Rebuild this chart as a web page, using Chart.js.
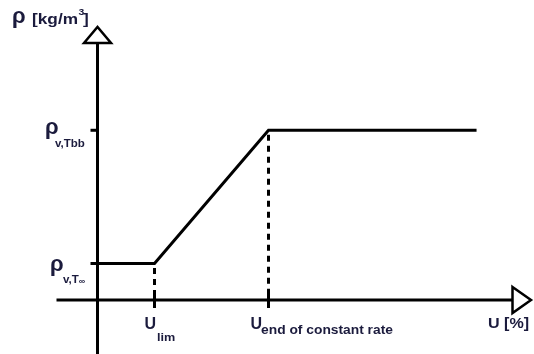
<!DOCTYPE html>
<html>
<head>
<meta charset="utf-8">
<script src="https://cdn.jsdelivr.net/npm/chart.js@4/dist/chart.umd.min.js"></script>
<style>
  html, body { margin: 0; padding: 0; background: #ffffff; }
  #wrap { width: 534px; height: 354px; }
</style>
</head>
<body>
<div id="wrap"><canvas id="c" width="534" height="354"></canvas></div>
<script>
// Moisture content U (abscissa) and vapour density rho (ordinate), schematic units
const curveU   = [0, 1, 3, 6.65];
const curveRho = [1, 1, 4.65, 4.65];

// Marked moisture contents on the U axis and their subscripts
const uTicks      = [1, 3];
const uTickSubs   = ['lim', 'end of constant rate'];

// Marked densities on the rho axis and their subscripts
const rhoTicks    = [1, 4.65];
const rhoTickSubs = ['v,T', 'v,Tbb'];

const axisTitleX = 'U [%]';
const axisTitleY = '[kg/m';

const INK = '#000000';
const TEXT = '#1b1b3d';

function rhoAt(u) {
  const i = curveU.indexOf(u);
  return curveRho[i];
}

const curveData = curveU.map((u, i) => ({ x: u, y: curveRho[i] }));

const guideSets = uTicks.map(u => ({
  data: [{ x: u, y: rhoAt(u) }, { x: u, y: 0 }],
  showLine: true,
  borderColor: INK,
  borderWidth: 3,
  borderDash: [6, 5],
  borderDashOffset: 6.5,
  borderCapStyle: 'butt',
  pointRadius: 0
}));

// stretched bold text helper
function txt(ctx, s, x, y, size, sx) {
  ctx.save();
  ctx.translate(x, y);
  ctx.scale(sx || 1.15, 1);
  ctx.font = 'bold ' + size + 'px "Liberation Sans", Arial, sans-serif';
  ctx.fillStyle = TEXT;
  ctx.textBaseline = 'alphabetic';
  ctx.textAlign = 'left';
  ctx.fillText(s, 0, 0);
  const w = ctx.measureText(s).width * (sx || 1.15);
  ctx.restore();
  return w;
}

const axesPlugin = {
  id: 'axesPlugin',
  beforeDatasetsDraw(chart) {
    const ctx = chart.ctx;
    const xs = chart.scales.x, ys = chart.scales.y;
    const ox = xs.getPixelForValue(0), oy = ys.getPixelForValue(0);
    ctx.save();
    ctx.strokeStyle = INK;
    ctx.lineWidth = 3;
    ctx.lineCap = 'butt';
    // horizontal axis
    const xEnd = 512.5;
    ctx.beginPath();
    ctx.moveTo(ox - 41, oy);
    ctx.lineTo(xEnd, oy);
    ctx.stroke();
    // vertical axis
    const yEnd = 43;
    ctx.beginPath();
    ctx.moveTo(ox, chart.height);
    ctx.lineTo(ox, yEnd);
    ctx.stroke();
    // ticks on U axis
    uTicks.forEach(u => {
      const px = xs.getPixelForValue(u);
      ctx.beginPath();
      ctx.moveTo(px, oy - 8);
      ctx.lineTo(px, oy + 8);
      ctx.stroke();
    });
    // ticks on rho axis
    rhoTicks.forEach(r => {
      const py = ys.getPixelForValue(r);
      ctx.beginPath();
      ctx.moveTo(ox - 7, py);
      ctx.lineTo(ox, py);
      ctx.stroke();
    });
    // open arrowheads
    ctx.lineWidth = 2.5;
    ctx.lineJoin = 'miter';
    ctx.fillStyle = '#ffffff';
    ctx.beginPath();
    ctx.moveTo(xEnd, oy - 13);
    ctx.lineTo(xEnd + 18.5, oy);
    ctx.lineTo(xEnd, oy + 13);
    ctx.closePath();
    ctx.fill();
    ctx.stroke();
    ctx.beginPath();
    ctx.moveTo(ox - 13.5, yEnd);
    ctx.lineTo(ox, yEnd - 16);
    ctx.lineTo(ox + 13.5, yEnd);
    ctx.closePath();
    ctx.fill();
    ctx.stroke();
    ctx.restore();
  },
  afterDraw(chart) {
    const ctx = chart.ctx;
    const xs = chart.scales.x, ys = chart.scales.y;
    const oy = ys.getPixelForValue(0);

    // axis titles
    txt(ctx, '\u03c1', 12, 22.5, 22, 1.0);
    let w = txt(ctx, axisTitleY, 32, 24, 15);
    txt(ctx, '3', 32 + w + 0.5, 15, 9);
    txt(ctx, ']', 32 + w + 5, 24, 15);
    txt(ctx, axisTitleX, 488, oy + 28, 14);

    // U marks
    uTicks.forEach((u, i) => {
      const px = xs.getPixelForValue(u);
      const left = i === 0 ? px - 10 : px - 18;
      const uw = txt(ctx, 'U', left, oy + 29, 16, 1.0);
      txt(ctx, uTickSubs[i], left + uw - (i === 0 ? -1 : 1), oy + (i === 0 ? 41 : 34), i === 0 ? 11 : 12);
    });

    // rho marks
    rhoTicks.forEach((r, i) => {
      const py = ys.getPixelForValue(r);
      if (i === 0) {
        txt(ctx, '\u03c1', 50, py + 7, 22, 1.0);
        const sw = txt(ctx, rhoTickSubs[i], 63, py + 19.5, 10);
        txt(ctx, '\u221e', 63 + sw, py + 20.5, 9, 1.0);
      } else {
        txt(ctx, '\u03c1', 45, py + 3.5, 22, 1.0);
        txt(ctx, rhoTickSubs[i], 55, py + 17, 10);
      }
    });
  }
};

new Chart(document.getElementById('c'), {
  type: 'scatter',
  data: {
    datasets: [
      {
        data: curveData,
        showLine: true,
        borderColor: INK,
        borderWidth: 3,
        borderJoinStyle: 'miter',
        borderCapStyle: 'butt',
        tension: 0,
        pointRadius: 0
      },
      ...guideSets
    ]
  },
  options: {
    responsive: false,
    devicePixelRatio: 1,
    animation: false,
    layout: { padding: 0 },
    plugins: { legend: { display: false }, tooltip: { enabled: false } },
    scales: {
      x: { type: 'linear', min: -97.5 / 57, max: 436.5 / 57, display: false },
      y: { type: 'linear', min: -54 / 36.5, max: 300 / 36.5, display: false }
    }
  },
  plugins: [axesPlugin]
});
</script>
</body>
</html>
